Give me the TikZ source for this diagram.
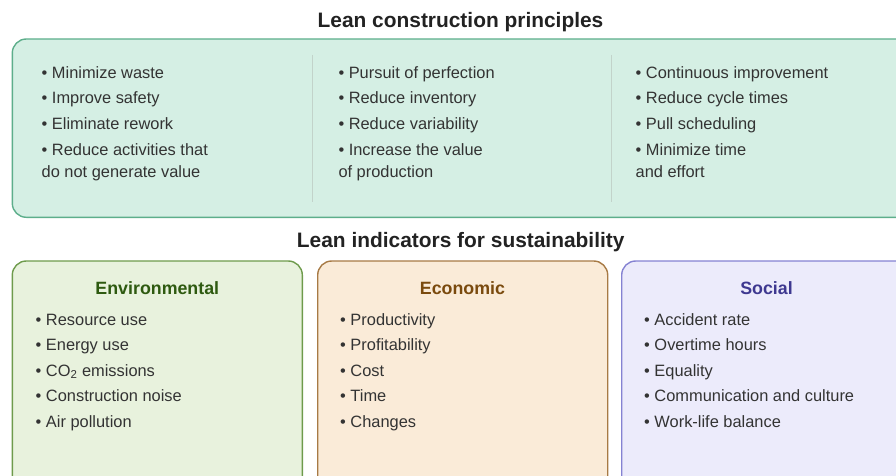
\documentclass[tikz,border=0pt]{standalone}
\usepackage{fontspec}
\setmainfont{Liberation Sans}
\definecolor{titlegray}{HTML}{222222}
\definecolor{itemgray}{HTML}{333333}
\definecolor{mintfill}{HTML}{D5EFE4}
\definecolor{mintline}{HTML}{5DAE8B}
\definecolor{sepgray}{HTML}{C2D3CA}
\definecolor{envfill}{HTML}{E8F2DD}
\definecolor{envline}{HTML}{6E9B4C}
\definecolor{envtext}{HTML}{2E5A10}
\definecolor{ecofill}{HTML}{FAEBD8}
\definecolor{ecoline}{HTML}{A77A45}
\definecolor{ecotext}{HTML}{7A4A0E}
\definecolor{socfill}{HTML}{ECEBFB}
\definecolor{socline}{HTML}{8582D2}
\definecolor{soctext}{HTML}{3E3890}

\begin{document}
\begin{tikzpicture}[x=1pt,y=-1pt,
  panel/.style={line width=1.4pt, rounded corners=14pt},
  sepline/.style={draw=sepgray, line width=1.2pt},
  title/.style={font=\bfseries\fontsize{20.9}{25}\selectfont, text=titlegray, anchor=base, inner sep=0pt},
  head/.style={font=\bfseries\fontsize{17.8}{22}\selectfont, anchor=base, inner sep=0pt},
  items/.style={font=\fontsize{16.4}{22.7}\selectfont, text=itemgray, align=left, anchor=base west, inner sep=0pt}]
\useasboundingbox (0,0) rectangle (896,476);
\clip (0,0) rectangle (896,476);
\node[title] (toptitle) at (460.5,28) {Lean construction principles};
\draw[panel, draw=mintline, fill=mintfill] (12.3,39) rectangle (911.7,217.3);
\draw[sepline] (312.7,55) -- (312.7,202.3);
\draw[sepline] (611.3,55) -- (611.3,202.3);
\node[items] (waste) at (41.5,177.7) {\textbullet\ Minimize waste\\[2.8pt]
  \textbullet\ Improve safety\\[2.8pt]
  \textbullet\ Eliminate rework\\[2.8pt]
  \textbullet\ Reduce activities that\\
  do not generate value};
\node[items] (perfection) at (338.3,177.7) {\textbullet\ Pursuit of perfection\\[2.8pt]
  \textbullet\ Reduce inventory\\[2.8pt]
  \textbullet\ Reduce variability\\[2.8pt]
  \textbullet\ Increase the value\\
  of production};
\node[items] (improvement) at (635.5,177.7) {\textbullet\ Continuous improvement\\[2.8pt]
  \textbullet\ Reduce cycle times\\[2.8pt]
  \textbullet\ Pull scheduling\\[2.8pt]
  \textbullet\ Minimize time\\
  and effort};
\node[title] (bottomtitle) at (460.7,247.6) {Lean indicators for sustainability};
\foreach \x/\f/\d in {12.3/envfill/envline, 317.7/ecofill/ecoline, 621.7/socfill/socline}
  \draw[panel, draw=\d, fill=\f] (\x,261) rectangle ++(290,230);
\node[head, text=envtext] (environmental) at (157.3,294.5) {Environmental};
\node[head, text=ecotext] (economic) at (462.5,294.5) {Economic};
\node[head, text=soctext] (social) at (766.5,294.5) {Social};
\node[items] (envlist) at (35.5,427.4) {\textbullet\ Resource use\\[2.9pt]
  \textbullet\ Energy use\\[2.9pt]
  \textbullet\ CO\textsubscript{2} emissions\\[2.9pt]
  \textbullet\ Construction noise\\[2.9pt]
  \textbullet\ Air pollution};
\node[items] (ecolist) at (340,427.4) {\textbullet\ Productivity\\[2.9pt]
  \textbullet\ Profitability\\[2.9pt]
  \textbullet\ Cost\\[2.9pt]
  \textbullet\ Time\\[2.9pt]
  \textbullet\ Changes};
\node[items] (soclist) at (644,427.4) {\textbullet\ Accident rate\\[2.9pt]
  \textbullet\ Overtime hours\\[2.9pt]
  \textbullet\ Equality\\[2.9pt]
  \textbullet\ Communication and culture\\[2.9pt]
  \textbullet\ Work-life balance};
\end{tikzpicture}
\end{document}
